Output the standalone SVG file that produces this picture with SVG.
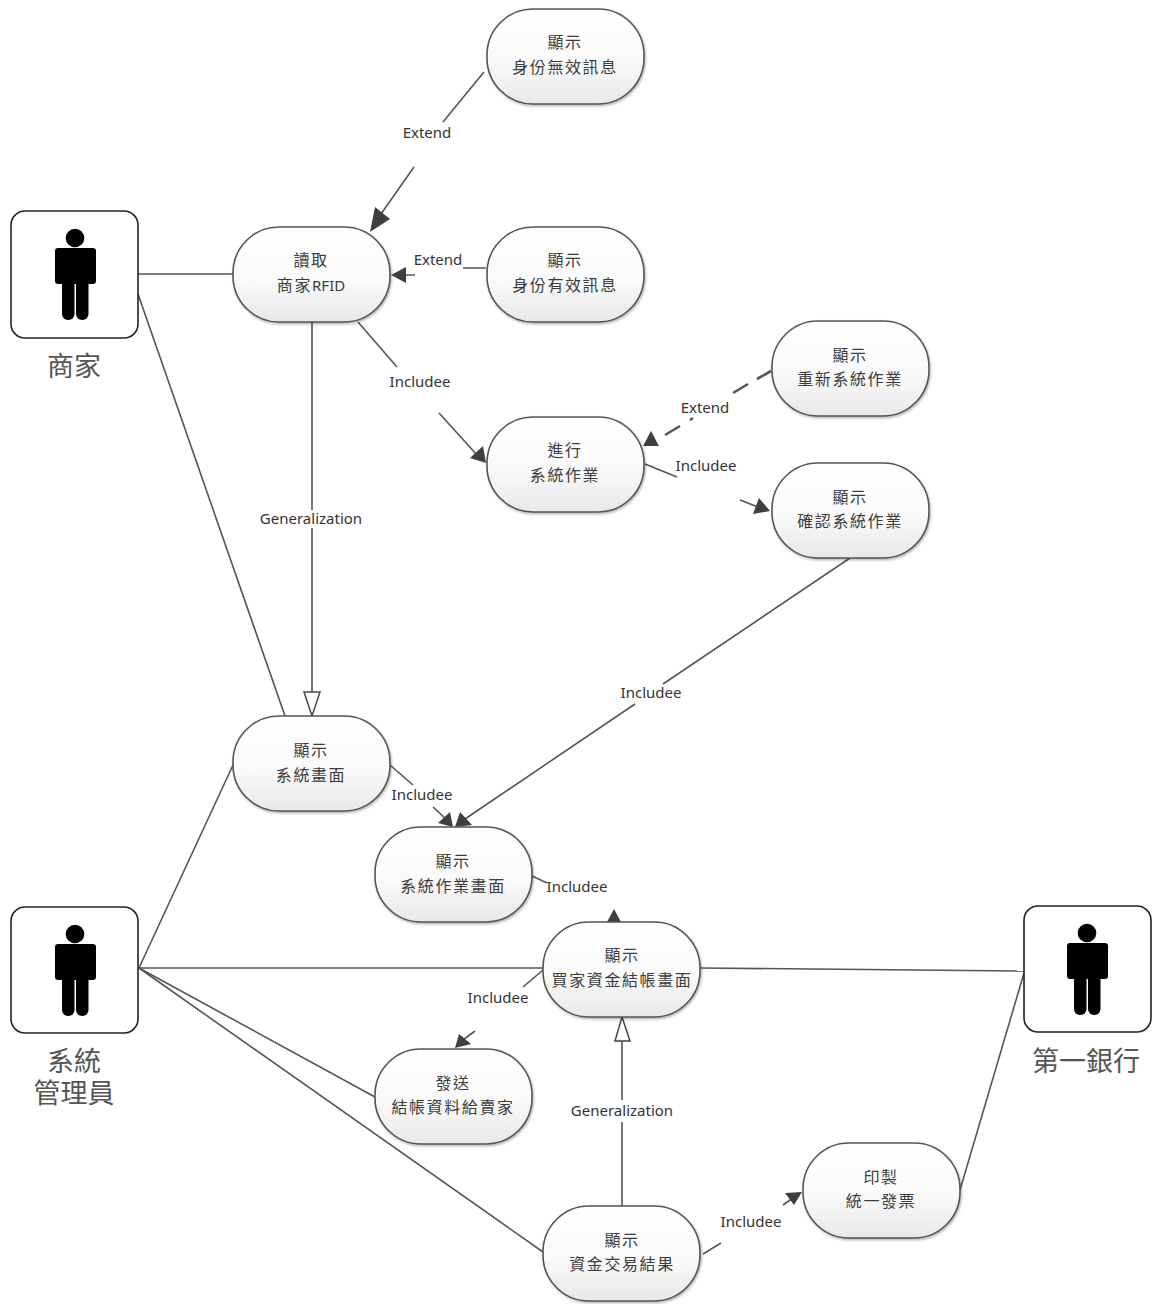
<svg xmlns="http://www.w3.org/2000/svg" width="1154" height="1304" viewBox="0 0 1154 1304">
<style>
text{font-family:"Noto Sans CJK TC","Noto Sans",sans-serif;fill:#3c3c3c;text-anchor:middle}
.n text{font-size:16px;letter-spacing:1.6px}
.n tspan{font-family:"Noto Sans",sans-serif;font-size:15px;letter-spacing:0}
.l{font-family:"Noto Sans","Noto Sans CJK TC",sans-serif;font-size:15px;fill:#333}
.a{font-size:27px;fill:#555}
.u{fill:url(#g);stroke:#555;stroke-width:1.6;filter:url(#s)}
.b{fill:#fff;stroke:#222;stroke-width:1.6}
.c{fill:none;stroke:#555;stroke-width:1.6}
.d{stroke-width:2.6}
.h{fill:#3f3f3f;stroke:none}
.o{fill:#fff;stroke:#444;stroke-width:1.5}
</style>
<defs>
<linearGradient id="g" x1="0" y1="0" x2="0" y2="1"><stop offset="0" stop-color="#fff"/><stop offset="0.55" stop-color="#fafafa"/><stop offset="1" stop-color="#e8e8e8"/></linearGradient>
<filter id="s" x="-5%" y="-5%" width="112%" height="112%"><feDropShadow dx="1" dy="1.5" stdDeviation="1.2" flood-color="#000" flood-opacity=".3"/></filter>
<g id="p"><circle cx="0" cy="-36" r="9.3"/><rect x="-20" y="-26" width="41" height="36" rx="3"/><rect x="-13" y="-20" width="12.5" height="66" rx="6"/><rect x="1" y="-20" width="12.5" height="66" rx="6"/></g>
</defs>
<g id="connectors">
<path class="c" d="M484 72L443 122M414 167L381 214"/><path class="h" d="M370 232L375 207L390 219Z"/>
<path class="c" d="M486 268H463M415 275H403"/><path class="h" d="M391 275L406 267V283Z"/>
<path class="c" d="M358 322L397 367M439 413L477 455"/><path class="h" d="M486 463L483 446L470 458Z"/>
<path class="c d" d="M771 371L757 379M748 384L733 393M693 418L690 420M680 426L665 435"/><path class="h" d="M643 446L651 431L659 446Z"/>
<path class="c" d="M645 464L677 477M740 500L758 507"/><path class="h" d="M770 511L759 498L753 514Z"/>
<path class="c" d="M138 274H233"/><path class="c" d="M138 294L285 716"/>
<path class="c" d="M312 322V510M312 528V692"/><path class="o" d="M312 716L304 692H320Z"/>
<path class="c" d="M850 558L663 684M635 704L465 819"/><path class="h" d="M455 827L460 812L472 825Z"/>
<path class="c" d="M390 765L413 785M433 807L446 819"/><path class="h" d="M453 827L450 812L438 823Z"/>
<path class="c" d="M532 876L547 883"/><path class="h" d="M614 909L621 922H607Z"/>
<path class="c" d="M139 968H543"/><path class="c" d="M139 968L233 765"/><path class="c" d="M139 968L375 1097"/><path class="c" d="M139 968L543 1252"/>
<path class="c" d="M700 968L1024 971"/><path class="c" d="M1024 973L960 1190"/>
<path class="c" d="M543 970L523 987M475 1031L463 1040"/><path class="h" d="M455 1048L459 1034L471 1044Z"/>
<path class="c" d="M622 1206V1122M622 1100V1041"/><path class="o" d="M622 1017L615 1041H630Z"/>
<path class="c" d="M703 1254L721 1243M783 1205L793 1198"/><path class="h" d="M802 1192L785 1193L794 1205Z"/>
<g id="labels">
<text class="l" x="427" y="138">Extend</text>
<text class="l" x="438" y="265">Extend</text>
<text class="l" x="420" y="387">Includee</text>
<text class="l" x="705" y="413">Extend</text>
<text class="l" x="706" y="471">Includee</text>
<text class="l" x="311" y="524">Generalization</text>
<text class="l" x="651" y="698">Includee</text>
<text class="l" x="422" y="800">Includee</text>
<text class="l" x="577" y="892">Includee</text>
<text class="l" x="498" y="1003">Includee</text>
<text class="l" x="622" y="1116">Generalization</text>
<text class="l" x="751" y="1227">Includee</text>
</g>
</g>
<g id="merchant"><rect class="b" x="11" y="211" width="127" height="127" rx="14"/><use href="#p" x="75" y="274"/><text class="a" x="74" y="376">商家</text></g>
<g id="admin"><rect class="b" x="11" y="907" width="127" height="126" rx="14"/><use href="#p" x="75" y="970"/><text class="a" x="74" y="1071">系統<tspan x="74" dy="32">管理員</tspan></text></g>
<g id="bank"><rect class="b" x="1024" y="906" width="127" height="126" rx="14"/><use href="#p" x="1087" y="969"/><text class="a" x="1086" y="1071">第一銀行</text></g>
<g id="u1" class="n"><rect class="u" x="487" y="9" width="157" height="95" rx="46"/><text x="565" y="48">顯示</text><text x="565" y="73">身份無效訊息</text></g>
<g id="u2" class="n"><rect class="u" x="233" y="227" width="157" height="95" rx="46"/><text x="311" y="266">讀取</text><text x="311" y="291">商家<tspan>RFID</tspan></text></g>
<g id="u3" class="n"><rect class="u" x="487" y="227" width="157" height="95" rx="46"/><text x="565" y="266">顯示</text><text x="565" y="291">身份有效訊息</text></g>
<g id="u4" class="n"><rect class="u" x="772" y="321" width="157" height="95" rx="46"/><text x="850" y="361">顯示</text><text x="850" y="385">重新系統作業</text></g>
<g id="u5" class="n"><rect class="u" x="487" y="417" width="157" height="95" rx="46"/><text x="565" y="456">進行</text><text x="565" y="481">系統作業</text></g>
<g id="u6" class="n"><rect class="u" x="772" y="463" width="157" height="95" rx="46"/><text x="850" y="503">顯示</text><text x="850" y="527">確認系統作業</text></g>
<g id="u7" class="n"><rect class="u" x="233" y="716" width="157" height="95" rx="46"/><text x="311" y="756">顯示</text><text x="311" y="781">系統畫面</text></g>
<g id="u8" class="n"><rect class="u" x="375" y="827" width="157" height="95" rx="46"/><text x="453" y="867">顯示</text><text x="453" y="892">系統作業畫面</text></g>
<g id="u9" class="n"><rect class="u" x="543" y="922" width="157" height="95" rx="46"/><text x="622" y="961">顯示</text><text x="622" y="986">買家資金結帳畫面</text></g>
<g id="u10" class="n"><rect class="u" x="375" y="1049" width="157" height="95" rx="46"/><text x="453" y="1089">發送</text><text x="453" y="1113">結帳資料給賣家</text></g>
<g id="u11" class="n"><rect class="u" x="543" y="1206" width="157" height="95" rx="46"/><text x="622" y="1246">顯示</text><text x="622" y="1270">資金交易結果</text></g>
<g id="u12" class="n"><rect class="u" x="803" y="1143" width="157" height="95" rx="46"/><text x="881" y="1183">印製</text><text x="881" y="1207">統一發票</text></g>
</svg>
